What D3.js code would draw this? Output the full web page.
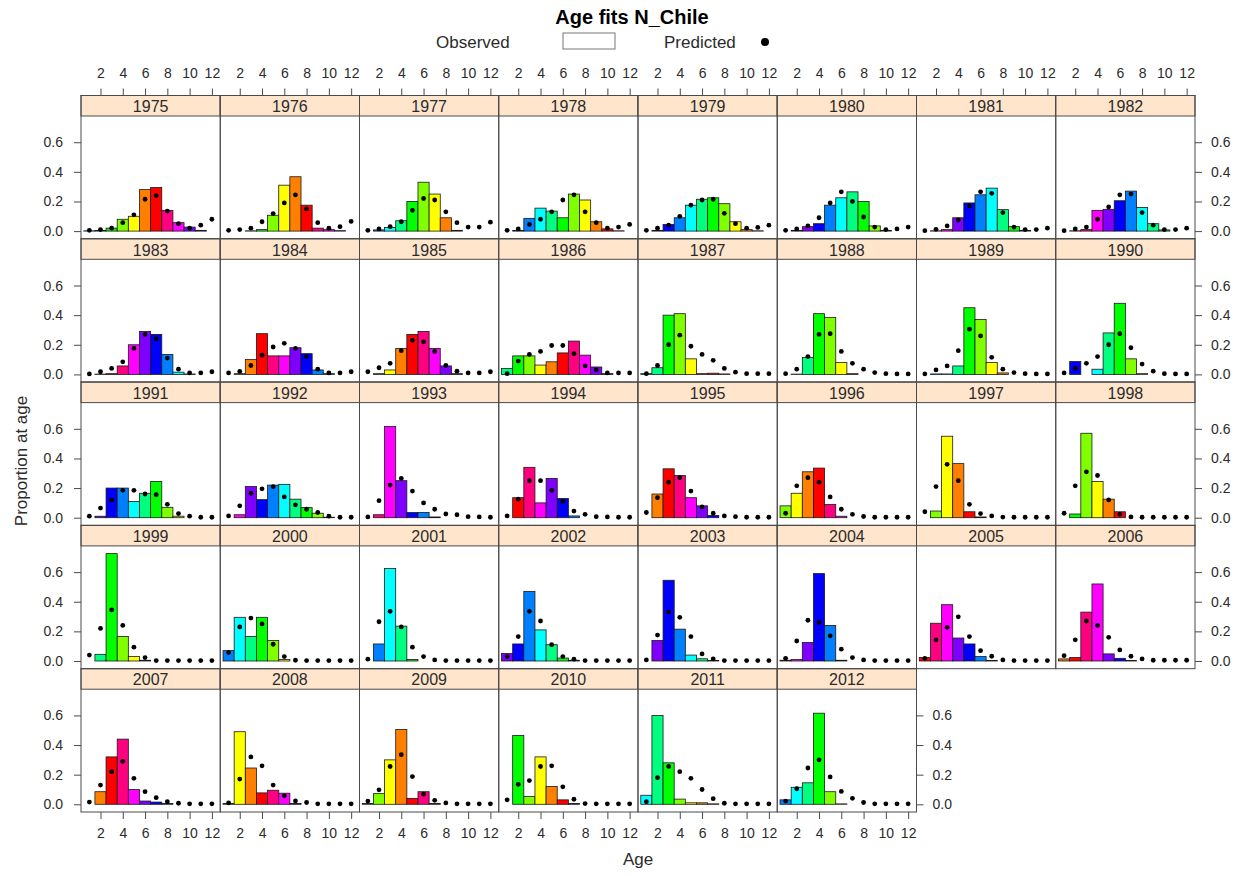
<!DOCTYPE html>
<html>
<head>
<meta charset="utf-8">
<script src="https://cdnjs.cloudflare.com/ajax/libs/d3/7.8.5/d3.min.js"></script>
<style>
  html, body { margin: 0; padding: 0; background: #ffffff; }
  svg { display: block; font-family: "Liberation Sans", Arial, Helvetica, sans-serif; }
</style>
</head>
<body>
<svg id="chart" width="1244" height="876"></svg>
<script>
// ---------------- data ----------------
const years = d3.range(1975, 2013);
const ages = [1, 2, 3, 4, 5, 6, 7, 8, 9, 10, 11, 12];
const yTicks = [0.0, 0.2, 0.4, 0.6];
const xTicks = [2, 4, 6, 8, 10, 12];
const cohortColors = ["#FF0000", "#FF8000", "#FFFF00", "#80FF00", "#00FF00", "#00FF80",
                      "#00FFFF", "#0080FF", "#0000FF", "#8000FF", "#FF00FF", "#FF0080"];
const baseCohort = 1968;

const observed = [
  [0.002,0.005,0.02,0.08,0.10,0.28,0.295,0.14,0.057,0.027,0.005,0],      // 1975
  [0,0,0.002,0.01,0.107,0.31,0.367,0.175,0.02,0.01,0.003,0],             // 1976
  [0,0.008,0.025,0.07,0.20,0.33,0.25,0.09,0.005,0,0,0],                  // 1977
  [0,0.005,0.086,0.155,0.135,0.09,0.25,0.21,0.063,0.015,0.002,0],        // 1978
  [0,0.005,0.045,0.09,0.175,0.215,0.225,0.185,0.063,0.01,0.002,0],       // 1979
  [0,0.005,0.03,0.05,0.175,0.225,0.265,0.20,0.035,0.005,0,0],            // 1980
  [0,0.002,0.01,0.09,0.19,0.245,0.29,0.145,0.03,0.005,0,0],              // 1981
  [0,0.002,0.01,0.14,0.147,0.205,0.27,0.16,0.05,0.008,0,0],              // 1982
  [0,0.002,0.005,0.057,0.20,0.29,0.27,0.135,0.015,0.003,0,0],            // 1983
  [0,0.005,0.10,0.275,0.125,0.125,0.18,0.14,0.03,0.005,0,0],             // 1984
  [0,0.005,0.03,0.175,0.27,0.29,0.175,0.057,0.005,0,0,0],                // 1985
  [0.04,0.125,0.125,0.063,0.085,0.145,0.225,0.13,0.05,0.005,0,0],        // 1986
  [0.005,0.045,0.40,0.41,0.105,0.005,0.008,0.003,0,0,0,0],               // 1987
  [0,0.002,0.115,0.41,0.385,0.08,0.005,0,0,0,0,0],                       // 1988
  [0,0.003,0.003,0.057,0.45,0.37,0.08,0.01,0,0,0,0],                     // 1989
  [0,0.087,0,0.035,0.28,0.48,0.105,0.005,0,0,0,0],                       // 1990
  [0,0.01,0.20,0.20,0.11,0.165,0.245,0.07,0.01,0,0,0],                   // 1991
  [0,0.02,0.21,0.122,0.22,0.225,0.125,0.068,0.03,0.003,0,0],             // 1992
  [0,0.02,0.615,0.25,0.035,0.035,0.005,0,0,0,0,0],                       // 1993
  [0,0.135,0.34,0.10,0.265,0.13,0.012,0,0,0,0,0],                        // 1994
  [0,0.16,0.33,0.285,0.135,0.08,0.015,0,0,0,0,0],                        // 1995
  [0.08,0.165,0.31,0.335,0.09,0.01,0,0,0,0,0,0],                         // 1996
  [0,0.045,0.55,0.365,0.04,0.005,0,0,0,0,0,0],                           // 1997
  [0,0.025,0.57,0.245,0.125,0.04,0,0,0,0,0,0],                           // 1998
  [0,0.045,0.725,0.165,0.03,0.005,0,0,0,0,0,0],                          // 1999
  [0.07,0.295,0.165,0.295,0.138,0.01,0,0,0,0,0,0],                       // 2000
  [0,0.115,0.625,0.235,0.01,0,0,0,0,0,0,0],                              // 2001
  [0.05,0.115,0.47,0.21,0.11,0.02,0.005,0,0,0,0,0],                      // 2002
  [0,0.138,0.545,0.215,0.04,0.015,0.003,0,0,0,0,0],                      // 2003
  [0.005,0.01,0.125,0.59,0.24,0.005,0,0,0,0,0,0],                        // 2004
  [0.023,0.255,0.38,0.155,0.115,0.03,0.003,0,0,0,0,0],                   // 2005
  [0.014,0.023,0.33,0.52,0.048,0.018,0.003,0,0,0,0,0],                   // 2006
  [0,0.085,0.32,0.44,0.10,0.022,0.015,0.005,0,0,0,0],                    // 2007
  [0.005,0.49,0.245,0.077,0.095,0.075,0.005,0,0,0,0,0],                  // 2008
  [0.005,0.072,0.30,0.505,0.04,0.085,0.005,0,0,0,0,0],                   // 2009
  [0,0.465,0.052,0.32,0.12,0.03,0.005,0,0,0,0,0],                        // 2010
  [0.061,0.60,0.28,0.035,0.01,0.01,0.003,0,0,0,0,0],                     // 2011
  [0.03,0.115,0.145,0.615,0.085,0.003,0,0,0,0,0,0]                       // 2012
];

const predicted = [
  [0.005,0.01,0.02,0.057,0.11,0.215,0.24,0.135,0.05,0.02,0.04,0.08],     // 1975
  [0.005,0.01,0.02,0.063,0.118,0.19,0.245,0.15,0.057,0.02,0.03,0.065],   // 1976
  [0.005,0.015,0.03,0.063,0.14,0.22,0.21,0.13,0.057,0.027,0.027,0.06],   // 1977
  [0.005,0.015,0.045,0.08,0.13,0.21,0.245,0.13,0.057,0.02,0.027,0.045],  // 1978
  [0.005,0.02,0.04,0.10,0.175,0.21,0.215,0.12,0.05,0.02,0.025,0.04],     // 1979
  [0.005,0.015,0.035,0.09,0.19,0.265,0.20,0.095,0.027,0.01,0.015,0.027], // 1980
  [0.003,0.012,0.035,0.075,0.17,0.265,0.255,0.125,0.027,0.01,0.01,0.02], // 1981
  [0.003,0.015,0.027,0.08,0.163,0.245,0.25,0.125,0.04,0.01,0.01,0.02],   // 1982
  [0.003,0.018,0.04,0.085,0.175,0.27,0.24,0.11,0.035,0.01,0.01,0.018],   // 1983
  [0.01,0.02,0.06,0.13,0.185,0.21,0.175,0.12,0.035,0.01,0.01,0.018],     // 1984
  [0.018,0.045,0.075,0.16,0.23,0.22,0.155,0.06,0.022,0.01,0.01,0.018],   // 1985
  [0.005,0.09,0.135,0.155,0.195,0.195,0.14,0.057,0.03,0.01,0.01,0.01],   // 1986
  [0.005,0.06,0.20,0.265,0.19,0.135,0.095,0.04,0.015,0.005,0.005,0.005], // 1987
  [0.005,0.035,0.12,0.27,0.275,0.155,0.075,0.035,0.012,0.005,0.003,0.003], // 1988
  [0.003,0.03,0.057,0.16,0.305,0.26,0.115,0.035,0.012,0.005,0.003,0.003],  // 1989
  [0.01,0.04,0.075,0.12,0.20,0.275,0.18,0.07,0.022,0.005,0.003,0.003],     // 1990
  [0.01,0.065,0.12,0.185,0.185,0.16,0.155,0.09,0.028,0.01,0.003,0.003],    // 1991
  [0.012,0.08,0.165,0.195,0.21,0.14,0.087,0.057,0.035,0.01,0.003,0.003],   // 1992
  [0.005,0.115,0.22,0.265,0.18,0.10,0.057,0.025,0.02,0.007,0.005,0.003],   // 1993
  [0.012,0.125,0.25,0.25,0.185,0.11,0.045,0.023,0.007,0.005,0.003,0.003],  // 1994
  [0.035,0.135,0.24,0.27,0.18,0.073,0.03,0.012,0.007,0.003,0.003,0.003],   // 1995
  [0.03,0.215,0.27,0.24,0.14,0.057,0.023,0.008,0.003,0.003,0.003,0.003],   // 1996
  [0.04,0.21,0.36,0.25,0.09,0.028,0.012,0.004,0.003,0.003,0.003,0.003],    // 1997
  [0.03,0.215,0.31,0.285,0.12,0.023,0.005,0.003,0.003,0.003,0.003,0.003],  // 1998
  [0.04,0.22,0.345,0.24,0.093,0.023,0.003,0.003,0.003,0.003,0.003,0.003],  // 1999
  [0.057,0.23,0.29,0.25,0.113,0.03,0.005,0.003,0.003,0.003,0.003,0.003],   // 2000
  [0.012,0.265,0.335,0.23,0.093,0.03,0.007,0.003,0.003,0.003,0.003,0.003], // 2001
  [0.03,0.165,0.335,0.27,0.11,0.03,0.012,0.003,0.003,0.003,0.003,0.003],   // 2002
  [0.007,0.175,0.33,0.295,0.165,0.048,0.014,0.003,0.003,0.003,0.003,0.003],// 2003
  [0.018,0.135,0.275,0.26,0.17,0.08,0.023,0.007,0.003,0.003,0.003,0.003],  // 2004
  [0.018,0.143,0.227,0.298,0.165,0.07,0.032,0.007,0.003,0.003,0.003,0.003],// 2005
  [0.036,0.143,0.27,0.24,0.16,0.075,0.032,0.014,0.005,0.005,0.005,0.005],  // 2006
  [0.015,0.13,0.22,0.29,0.175,0.085,0.045,0.018,0.007,0.003,0.003,0.003],  // 2007
  [0.01,0.17,0.32,0.26,0.13,0.057,0.023,0.012,0.003,0.003,0.003,0.003],    // 2008
  [0.022,0.098,0.255,0.335,0.187,0.068,0.027,0.009,0.003,0.003,0.003,0.003], // 2009
  [0.03,0.135,0.16,0.255,0.26,0.118,0.034,0.005,0.003,0.003,0.003,0.003],  // 2010
  [0.018,0.18,0.255,0.22,0.175,0.10,0.038,0.007,0.003,0.003,0.003,0.003],  // 2011
  [0.022,0.105,0.245,0.30,0.185,0.087,0.04,0.012,0.003,0.003,0.003,0.003]  // 2012
];

const titleText = "Age fits N_Chile";
const xLabel = "Age";
const yLabel = "Proportion at age";

// ---------------- layout ----------------
const svg = d3.select("#chart");
const left = 81, right = 1195, top0 = 95.5, bottom = 812;
const ncol = 8, nrow = 5;
const pw = (right - left) / ncol;
const ph = (bottom - top0) / nrow;
const stripH = 20.5;
const lineCol = "#4a4a4a";
const textCol = "#2b2b2b";

const x = d3.scaleLinear().domain([0.25, 12.75]).range([0, pw]);
const y = d3.scaleLinear().domain([-0.052, 0.777]).range([ph - stripH, 0]);

function cohortColor(year, age) {
  const k = (((year - age - baseCohort) % 12) + 12) % 12;
  return cohortColors[k];
}

// title
svg.append("text").attr("x", 632).attr("y", 24).attr("text-anchor", "middle")
  .attr("font-size", 20).attr("font-weight", "bold").attr("fill", "#000").text(titleText);

// legend
const leg = svg.append("g");
leg.append("text").attr("x", 436).attr("y", 48).attr("font-size", 17).attr("fill", textCol).text("Observed");
leg.append("rect").attr("x", 563).attr("y", 33).attr("width", 52).attr("height", 16)
  .attr("fill", "#fff").attr("stroke", "#777").attr("stroke-width", 1);
leg.append("text").attr("x", 664).attr("y", 48).attr("font-size", 17).attr("fill", textCol).text("Predicted");
leg.append("circle").attr("cx", 765).attr("cy", 42).attr("r", 4).attr("fill", "#000");

// panels
years.forEach((yr, i) => {
  const col = i % ncol, row = Math.floor(i / ncol);
  const g = svg.append("g").attr("transform", `translate(${left + col * pw},${top0 + row * ph})`);
  const plot = g.append("g").attr("transform", `translate(0,${stripH})`);

  const obs = observed[i], pred = predicted[i];
  plot.selectAll("rect.bar").data(ages).enter().append("rect")
    .attr("class", "bar")
    .attr("x", a => x(a - 0.5))
    .attr("width", a => x(a + 0.5) - x(a - 0.5))
    .attr("y", (a, j) => y(obs[j]))
    .attr("height", (a, j) => y(0) - y(obs[j]))
    .attr("fill", a => cohortColor(yr, a))
    .attr("stroke", "#1a1a1a").attr("stroke-width", 0.8);

  plot.selectAll("circle").data(ages).enter().append("circle")
    .attr("cx", a => x(a))
    .attr("cy", (a, j) => y(pred[j]))
    .attr("r", 2.4).attr("fill", "#000");

  // strip
  g.append("rect").attr("x", 0).attr("y", 0).attr("width", pw).attr("height", stripH)
    .attr("fill", "#FFE5CC").attr("stroke", lineCol).attr("stroke-width", 1);
  g.append("text").attr("x", pw / 2).attr("y", stripH / 2 + 1).attr("text-anchor", "middle")
    .attr("dominant-baseline", "central").attr("font-size", 16).attr("fill", textCol).text(yr);

  // border
  g.append("rect").attr("x", 0).attr("y", 0).attr("width", pw).attr("height", ph)
    .attr("fill", "none").attr("stroke", lineCol).attr("stroke-width", 1);

  const styleAxis = sel => {
    sel.select(".domain").remove();
    sel.selectAll(".tick line").attr("stroke", lineCol);
    sel.selectAll(".tick text").attr("fill", textCol).attr("font-size", 14)
      .attr("font-family", "'Liberation Sans', Arial, sans-serif");
  };

  // left axis on first column
  if (col === 0) {
    plot.append("g").call(d3.axisLeft(y).tickValues(yTicks).tickFormat(d3.format(".1f"))
      .tickSize(7).tickPadding(11)).call(styleAxis);
  }
  // right axis on last panel of each row
  const lastInRow = (col === ncol - 1) || (i === years.length - 1);
  if (lastInRow) {
    plot.append("g").attr("transform", `translate(${pw},0)`)
      .call(d3.axisRight(y).tickValues(yTicks).tickFormat(d3.format(".1f"))
      .tickSize(7).tickPadding(9)).call(styleAxis);
  }
  // top axis on first row
  if (row === 0) {
    g.append("g").call(d3.axisTop(x).tickValues(xTicks).tickFormat(d3.format("d"))
      .tickSize(7).tickPadding(10.5)).call(styleAxis);
  }
  // bottom axis on last row
  if (row === nrow - 1) {
    g.append("g").attr("transform", `translate(0,${ph})`)
      .call(d3.axisBottom(x).tickValues(xTicks).tickFormat(d3.format("d"))
      .tickSize(7).tickPadding(9)).call(styleAxis);
  }
});

// axis labels
svg.append("text").attr("x", 638).attr("y", 865).attr("text-anchor", "middle")
  .attr("font-size", 17).attr("fill", textCol).text(xLabel);
svg.append("text").attr("transform", "translate(27,461) rotate(-90)").attr("text-anchor", "middle")
  .attr("font-size", 17).attr("fill", textCol).text(yLabel);
</script>
</body>
</html>
